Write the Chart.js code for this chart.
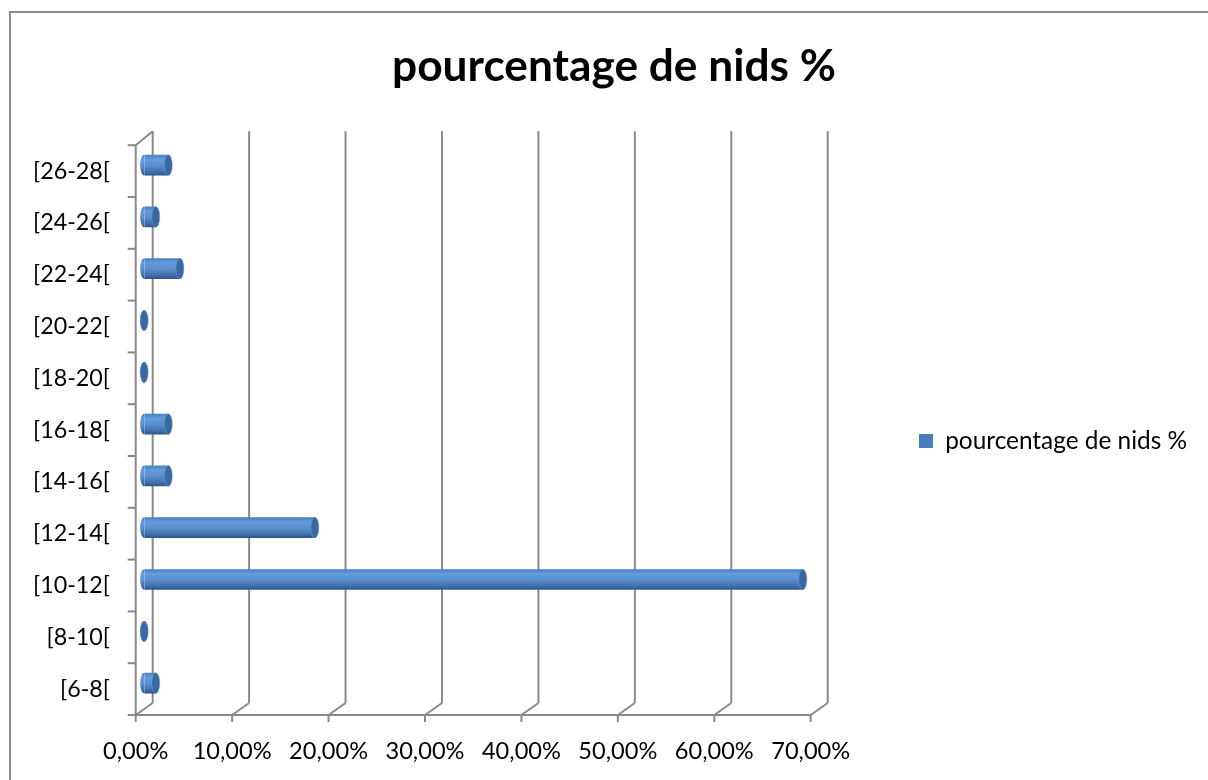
<!DOCTYPE html>
<html><head><meta charset="utf-8">
<script src="https://cdn.jsdelivr.net/npm/chart.js@4.4.1/dist/chart.umd.min.js"></script>
<style>html,body{margin:0;padding:0;background:#fff;overflow:hidden}</style>
</head><body>
<canvas id="c" width="1208" height="780" style="display:block;width:1208px;height:780px"></canvas>
<script>
// ---- data ----
const categories = ['[6-8[', '[8-10[', '[10-12[', '[12-14[', '[14-16[', '[16-18[', '[18-20[', '[20-22[', '[22-24[', '[24-26[', '[26-28['];
const values = [1.2, 0, 68.3, 17.7, 2.5, 2.5, 0, 0, 3.7, 1.2, 2.5];
const xTickLabels = ['0,00%', '10,00%', '20,00%', '30,00%', '40,00%', '50,00%', '60,00%', '70,00%'];
const seriesName = 'pourcentage de nids %';
const titleText = 'pourcentage de nids %';

// ---- layout / style ----
const W = 1208, H = 780;
const FAM = 'Lato, "Open Sans", sans-serif';
const AREA = {left: 144.2, right: 819.2, top: 139.2, bottom: 709};
const DEPTH_X = 8.5, DEPTH_Y = 6;       // half depth offset (front/back planes)
const LINE = '#898989';
const BAR_BLUE = '#4F81BD';

const mctx = document.createElement('canvas').getContext('2d');
function fit(text, weight, target) { mctx.font = weight + ' 100px ' + FAM; return 100 * target / mctx.measureText(text).width; }
function textW(text, weight, size) { mctx.font = weight + ' ' + size + 'px ' + FAM; return mctx.measureText(text).width; }
const titleSize = fit(titleText, 'bold', 444);
const legendSize = fit(seriesName, 'normal', 242);
const yLabelSize = fit('[26-28[', 'normal', 77);
const xLabelSize = fit('10,00%', 'normal', 79);

const legendBox = 14;
const legendPad = 919 - AREA.right;
const legendItemW = legendBox + legendSize / 2 + textW(seriesName, 'normal', legendSize);
const padR = W - AREA.right - legendPad - legendItemW - 10;
const padL = 20 + padR;
const titleLH = titleSize * 1.2;
const titlePadTop = 67 - titleLH / 2;
const titlePadBottom = AREA.top - titlePadTop - titleLH;

function barGradient(ctx2, yc, half) {
  const g = ctx2.createLinearGradient(0, yc - half, 0, yc + half);
  g.addColorStop(0, '#4A7DBD');
  g.addColorStop(0.22, '#639CDD');
  g.addColorStop(0.5, '#5A8FD0');
  g.addColorStop(0.8, '#4272AE');
  g.addColorStop(1, '#2C5588');
  return g;
}

const walls = {
  id: 'walls',
  beforeDraw(chart) {
    const c = chart.ctx;
    c.save();
    c.fillStyle = '#fff';
    c.fillRect(0, 0, W, H);
    c.strokeStyle = '#8c8c8c';
    c.lineWidth = 2;
    c.strokeRect(10, 12, W + 20, H + 20);
    c.restore();
  },
  afterLayout(chart) {
    chart.legend.top += 17;
    chart.legend.bottom += 17;
    chart.scales.y.left = 0;
  },
  beforeDatasetsDraw(chart) {
    const c = chart.ctx;
    const {left, top, bottom} = chart.chartArea;
    const xs = chart.scales.x, ys = chart.scales.y;
    c.save();
    c.strokeStyle = LINE;
    c.lineWidth = 2;
    c.lineCap = 'butt';
    const line = (x1, y1, x2, y2) => { c.beginPath(); c.moveTo(x1, y1); c.lineTo(x2, y2); c.stroke(); };
    xs.ticks.forEach(t => {
      const xm = xs.getPixelForValue(t.value);
      line(xm + DEPTH_X, top - DEPTH_Y - 2, xm + DEPTH_X, bottom - DEPTH_Y);
      line(xm - DEPTH_X, bottom + DEPTH_Y, xm + DEPTH_X, bottom - DEPTH_Y);
      line(xm - DEPTH_X, bottom + DEPTH_Y, xm - DEPTH_X, bottom + DEPTH_Y + 7);
    });
    const x0 = xs.getPixelForValue(xs.min) - DEPTH_X;
    const x1 = xs.getPixelForValue(xs.max) - DEPTH_X;
    line(x0 - 1, bottom + DEPTH_Y, x1 + 1, bottom + DEPTH_Y);
    line(left - DEPTH_X, top + DEPTH_Y, left - DEPTH_X, bottom + DEPTH_Y);
    line(left - DEPTH_X, top + DEPTH_Y, left + DEPTH_X, top - DEPTH_Y - 2);
    const step = Math.abs(ys.getPixelForValue(1) - ys.getPixelForValue(0));
    for (let i = 0; i <= categories.length; i++) {
      const y = ys.getPixelForValue(0) + step / 2 - i * step + DEPTH_Y;
      line(left - DEPTH_X - 8, y, left - DEPTH_X, y);
    }
    c.restore();
  },
  afterDatasetsDraw(chart) {
    const c = chart.ctx;
    const meta = chart.getDatasetMeta(0);
    c.save();
    meta.data.forEach(el => {
      const p = el.getProps(['x', 'y', 'base', 'height'], true);
      const ry = p.height / 2, rx = 4;
      c.beginPath();
      c.ellipse(p.base, p.y, rx, ry, 0, Math.PI / 2, Math.PI * 1.5);
      c.closePath();
      c.fillStyle = barGradient(c, p.y, ry);
      c.fill();
      c.beginPath();
      c.ellipse(p.x, p.y, rx, ry, 0, 0, Math.PI * 2);
      c.fillStyle = '#3A68A2';
      c.fill();
      c.strokeStyle = 'rgba(120,160,210,0.6)';
      c.lineWidth = 0.8;
      c.stroke();
    });
    c.restore();
  }
};

new Chart(document.getElementById('c'), {
  type: 'bar',
  data: {
    labels: categories,
    datasets: [{
      label: seriesName,
      data: values,
      barPercentage: 0.4,
      categoryPercentage: 1,
      borderWidth: 0,
      backgroundColor: (ctx) => {
        if (ctx.type !== 'data') return BAR_BLUE;
        const chart = ctx.chart, ys = chart.scales.y;
        if (!ys || !chart.chartArea) return BAR_BLUE;
        const step = Math.abs(ys.getPixelForValue(1) - ys.getPixelForValue(0));
        return barGradient(chart.ctx, ys.getPixelForValue(ctx.dataIndex), step * 0.4 / 2);
      }
    }]
  },
  options: {
    indexAxis: 'y',
    responsive: false,
    devicePixelRatio: 1,
    animation: false,
    events: [],
    layout: {padding: {left: padL, right: padR, top: 0, bottom: 0}},
    scales: {
      x: {
        type: 'linear', min: 0, max: 70,
        grid: {display: false, drawTicks: false}, border: {display: false},
        ticks: {
          stepSize: 10, padding: 28, labelOffset: -DEPTH_X, color: '#000',
          font: {family: FAM, size: xLabelSize},
          callback: (v) => xTickLabels[Math.round(v / 10)]
        },
        afterFit: (s) => { s.height = H - AREA.bottom; }
      },
      y: {
        type: 'category', reverse: true,
        grid: {display: false, drawTicks: false}, border: {display: false},
        ticks: {
          padding: AREA.left - 110, labelOffset: DEPTH_Y, color: '#000',
          font: {family: FAM, size: yLabelSize}
        },
        afterFit: (s) => { s.width = AREA.left - padL; }
      }
    },
    plugins: {
      title: {
        display: true, text: titleText, color: '#000',
        font: {family: FAM, size: titleSize, weight: 'bold'},
        padding: {top: titlePadTop, bottom: titlePadBottom}
      },
      legend: {
        display: true, position: 'right', fullSize: false, maxWidth: 800,
        labels: {
          boxWidth: legendBox, boxHeight: legendBox, padding: legendPad, color: '#000',
          font: {family: FAM, size: legendSize}
        }
      },
      tooltip: {enabled: false}
    }
  },
  plugins: [walls]
});
</script>
</body></html>
